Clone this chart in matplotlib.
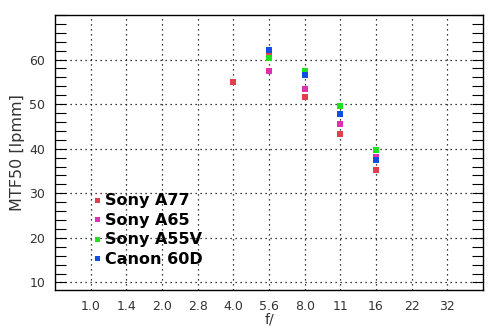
import matplotlib
matplotlib.use('Agg')
import matplotlib.pyplot as plt
from matplotlib.ticker import MultipleLocator

# f-stop categories on the x axis
fstops = ['1.0', '1.4', '2.0', '2.8', '4.0', '5.6', '8.0', '11', '16', '22', '32']

# MTF50 readings per camera (f-stop label -> lp/mm)
a77_f = ['4.0', '5.6', '8.0', '11', '16']
a77_v = [54.9, 61.8, 51.5, 43.2, 35.3]
a65_f = ['5.6', '8.0', '11', '16']
a65_v = [57.5, 53.3, 45.6, 38.1]
a55v_f = ['5.6', '8.0', '11', '16']
a55v_v = [60.4, 57.4, 49.5, 39.6]
c60d_f = ['5.6', '8.0', '11', '16']
c60d_v = [62.2, 56.6, 47.7, 37.4]

series = [
    ('Sony A77', a77_f, a77_v, '#e0404c'),
    ('Sony A65', a65_f, a65_v, '#e030b0'),
    ('Sony A55V', a55v_f, a55v_v, '#20e020'),
    ('Canon 60D', c60d_f, c60d_v, '#1050e0'),
]

fig = plt.figure(figsize=(4.94, 3.31), dpi=100)
ax = fig.add_axes([55/494, 41/331, 428/494, 275/331])

for name, fs, vals, col in series:
    xs = [fstops.index(f) for f in fs]
    ax.plot(xs, vals, 's', color=col, markersize=4, markeredgewidth=0, label=name)

ax.set_xlim(-1, 11)
ax.set_ylim(8.3, 70)
ax.set_xticks(range(len(fstops)))
ax.set_xticklabels(fstops)
ax.yaxis.set_minor_locator(MultipleLocator(2))
ax.set_yticks([10, 20, 30, 40, 50, 60])

ax.grid(True, which='major', color='black', linestyle=(0, (1, 3)), linewidth=0.9)
ax.tick_params(axis='x', length=0, pad=7, labelsize=9, labelcolor='#333333')
ax.tick_params(axis='y', which='both', direction='in', left=True, right=True,
               length=8, width=0.8, labelsize=9, labelcolor='#333333', pad=7)

for s in ax.spines.values():
    s.set_linewidth(1.0)

ax.set_xlabel('f/', fontsize=10, color='#333333', labelpad=0)
ax.set_ylabel('MTF50 [lpmm]', fontsize=11.5, color='#333333', labelpad=3)

leg = ax.legend(loc='lower left', bbox_to_anchor=(0.088, 0.085), frameon=False,
                prop={'weight': 'bold', 'size': 11.5}, handlelength=0.5,
                handletextpad=0.3, labelspacing=0.28, borderaxespad=0,
                borderpad=0, markerscale=0.9)
for h, (_, _, _, col) in zip(leg.legend_handles, series):
    h.set_color(col)

fig.savefig('out.png', dpi=100)
